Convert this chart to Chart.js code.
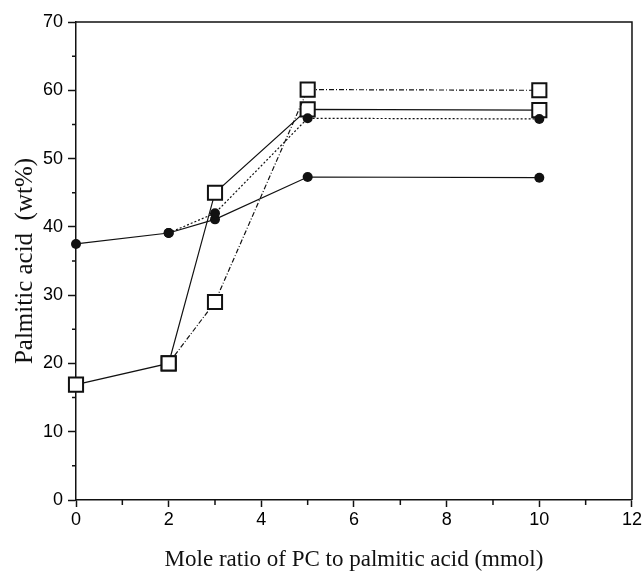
<!DOCTYPE html>
<html lang="en">
<head>
    <meta charset="utf-8">
    <script src="https://cdn.jsdelivr.net/npm/chart.js@4.4.1/dist/chart.umd.min.js"></script>
    <title>Palmitic acid vs mole ratio</title>
    <style>
    body { margin: 0; background: #fff; }
    </style>
</head>
<body>
    <canvas id="myChart" width="644" height="574"></canvas>

    <script>
        // mole ratio of PC to palmitic acid (x positions)
        var ratios = [0, 2, 3, 5, 10];

        // open squares, solid line
        var squaresSolid = [16.9, 20.0, 45.0, 57.2, 57.1];
        // open squares, dash-dot line
        var squaresDashDot = [null, 20.0, 29.0, 60.1, 60.0];
        // filled circles, solid line
        var circlesSolid = [37.5, 39.1, 41.1, 47.3, 47.2];
        // filled circles, dotted line
        var circlesDotted = [null, 39.1, 42.0, 55.9, 55.8];

        var xMinor = [1, 3, 5, 7, 9, 11];
        var yMinor = [5, 15, 25, 35, 45, 55, 65];

        var pts = function (vals) {
            return ratios.map(function (r, i) { return { x: r, y: vals[i] }; });
        };

        var frame = {
            id: 'frame',
            afterDatasetsDraw: function (chart) {
                var ctx = chart.ctx;
                var a = chart.chartArea;
                var sx = chart.scales.x, sy = chart.scales.y;
                ctx.save();
                ctx.strokeStyle = '#111';
                ctx.lineWidth = 1.5;
                ctx.beginPath();
                ctx.moveTo(a.left, a.top);
                ctx.lineTo(a.right, a.top);
                ctx.lineTo(a.right, a.bottom);
                ctx.stroke();
                ctx.beginPath();
                xMinor.forEach(function (v) {
                    var px = sx.getPixelForValue(v);
                    ctx.moveTo(px, a.bottom);
                    ctx.lineTo(px, a.bottom + 5);
                });
                yMinor.forEach(function (v) {
                    var py = sy.getPixelForValue(v);
                    ctx.moveTo(a.left, py);
                    ctx.lineTo(a.left - 4, py);
                });
                ctx.stroke();
                ctx.restore();
            }
        };

        var ctx = document.getElementById("myChart").getContext("2d");
        var myChart = new Chart(ctx, {
            type: "line",
            data: {
                datasets: [{
                    label: "circles dotted",
                    data: pts(circlesDotted),
                    borderColor: "#111",
                    borderWidth: 1.2,
                    borderDash: [2, 2],
                    pointStyle: "circle",
                    pointRadius: 5,
                    pointBackgroundColor: "#111",
                    pointBorderWidth: 0,
                    clip: false,
                    order: 1
                }, {
                    label: "circles solid",
                    data: pts(circlesSolid),
                    borderColor: "#111",
                    borderWidth: 1.2,
                    pointStyle: "circle",
                    pointRadius: 5,
                    pointBackgroundColor: "#111",
                    pointBorderWidth: 0,
                    clip: false,
                    order: 1
                }, {
                    label: "squares dash-dot",
                    data: pts(squaresDashDot),
                    borderColor: "#111",
                    borderWidth: 1.2,
                    borderDash: [5, 2, 1, 2],
                    pointStyle: "rect",
                    pointRadius: 10,
                    pointBackgroundColor: "#fff",
                    pointBorderColor: "#111",
                    pointBorderWidth: 2,
                    clip: false,
                    order: 2
                }, {
                    label: "squares solid",
                    data: pts(squaresSolid),
                    borderColor: "#111",
                    borderWidth: 1.2,
                    pointStyle: "rect",
                    pointRadius: 10,
                    pointBackgroundColor: "#fff",
                    pointBorderColor: "#111",
                    pointBorderWidth: 2,
                    clip: false,
                    order: 2
                }]
            },
            options: {
                responsive: false,
                animation: false,
                layout: { padding: { left: 0, right: 12, top: 22, bottom: 0 } },
                plugins: {
                    legend: { display: false },
                    tooltip: { enabled: false }
                },
                scales: {
                    x: {
                        type: "linear",
                        min: 0,
                        max: 12,
                        afterFit: function (s) { s.height = 74; },
                        ticks: {
                            stepSize: 2,
                            color: "#000",
                            padding: 2,
                            font: { family: "Liberation Sans", size: 18 }
                        },
                        grid: { drawOnChartArea: false, tickLength: 7, color: "#111", tickWidth: 1.5 },
                        border: { color: "#111", width: 1.5 },
                        title: {
                            display: true,
                            text: "Mole ratio of PC to palmitic acid (mmol)",
                            color: "#111",
                            padding: { top: 9, bottom: 0 },
                            font: { family: "Liberation Serif", size: 23 }
                        }
                    },
                    y: {
                        min: 0,
                        max: 70,
                        afterFit: function (s) { s.width = 76; },
                        ticks: {
                            stepSize: 10,
                            color: "#000",
                            padding: 5,
                            font: { family: "Liberation Sans", size: 18 }
                        },
                        grid: { drawOnChartArea: false, tickLength: 8, color: "#111", tickWidth: 1.5 },
                        border: { color: "#111", width: 1.5 },
                        title: {
                            display: true,
                            text: "Palmitic acid  (wt%)",
                            color: "#111",
                            padding: { top: 10, bottom: 0 },
                            font: { family: "Liberation Serif", size: 25 }
                        }
                    }
                }
            },
            plugins: [frame]
        });
    </script>
</body>
</html>
